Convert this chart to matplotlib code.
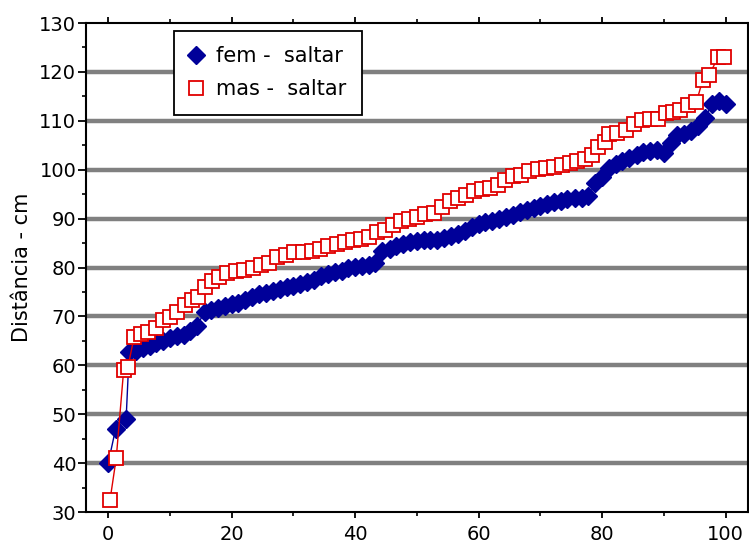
import matplotlib.pyplot as plt
from matplotlib.ticker import MultipleLocator

plt.rcParams['font.family'] = ['DejaVu Sans']

# fem - saltar
fem_x = [0, 1.2, 2.9, 3.4, 4.5, 5.6, 6.7, 7.8, 8.9, 10.0, 11.1, 12.2, 13.3, 14.4,
         15.6, 16.7, 17.8, 18.9, 20.0, 21.1, 22.2, 23.3, 24.4, 25.6, 26.7, 27.8,
         28.9, 30.0, 31.1, 32.2, 33.3, 34.4, 35.6, 36.7, 37.8, 38.9, 40.0, 41.1,
         42.2, 43.3, 44.4, 45.6, 46.7, 47.8, 48.9, 50.0, 51.1, 52.2, 53.3, 54.4,
         55.6, 56.7, 57.8, 58.9, 60.0, 61.1, 62.2, 63.3, 64.4, 65.6, 66.7, 67.8,
         68.9, 70.0, 71.1, 72.2, 73.3, 74.4, 75.6, 76.7, 77.8, 78.9, 80.0, 81.1,
         82.2, 83.3, 84.4, 85.6, 86.7, 87.8, 88.9, 90.0, 91.1, 92.2, 93.3, 94.4,
         95.6, 96.7, 97.8, 98.9, 100.0]
fem_y = [40, 47, 49, 62.7, 63, 63.5, 64, 64.5, 65, 65.5, 66, 66.3, 67, 68,
         71, 71.3, 71.8, 72.2, 72.5, 72.8, 73.3, 74, 74.5, 74.8, 75.2, 75.6,
         76, 76.3, 76.6, 77, 77.5, 78.2, 78.7, 79, 79.3, 79.8, 80.2, 80.4,
         80.6, 81, 83.3, 83.8, 84.3, 84.8, 85.2, 85.5, 85.6, 85.6, 85.7, 86,
         86.5, 86.8, 87.4, 88.2, 88.8, 89.3, 89.6, 90, 90.4, 90.8, 91.3, 91.8,
         92.2, 92.5, 93, 93.3, 93.6, 94, 94.2, 94.3, 94.6, 97.2, 98.5, 100.3,
         101.2, 101.8, 102.3, 103, 103.6, 103.9, 104, 103.5, 105.5, 107, 107.3, 108,
         109, 110.5, 113.5, 114, 113.5]

# mas - saltar
mas_x = [0.3, 1.3, 2.5, 3.2, 4.2, 5.3, 6.4, 7.7, 8.8, 10.0, 11.2, 12.4, 13.5, 14.6,
         15.7, 16.8, 18.0, 19.3, 20.7, 22.0, 23.4, 24.7, 26.1, 27.4, 28.8, 30.1,
         31.5, 33.0, 34.3, 35.6, 37.0, 38.3, 39.6, 41.0, 42.3, 43.5, 44.8, 46.1,
         47.4, 48.8, 50.1, 51.4, 52.8, 54.0, 55.3, 56.6, 58.0, 59.2, 60.5, 61.8,
         63.1, 64.3, 65.6, 66.9, 68.2, 69.6, 70.9, 72.2, 73.5, 74.8, 76.0, 77.2,
         78.4, 79.4, 80.4, 81.2, 82.5, 83.8, 85.1, 86.5, 87.8, 89.0, 90.3, 91.5,
         92.7, 94.0, 95.3, 96.3, 97.4, 98.8, 99.8]
mas_y = [32.5, 41, 59, 59.7, 65.8, 66.5, 66.9, 67.6, 69.3, 69.8, 71, 72.3, 73.3, 74,
         76, 77.3, 78.1, 78.8, 79.3, 79.4, 80, 80.5, 81, 82.2, 82.6, 83.2,
         83.2, 83.4, 83.8, 84.3, 84.8, 85.2, 85.6, 85.9, 86.3, 87.2, 87.7, 88.6,
         89.6, 90, 90.3, 90.9, 91.1, 92.4, 93.5, 94.3, 94.8, 95.6, 96, 96.2,
         96.9, 97.8, 98.8, 98.9, 99.7, 100.1, 100.4, 100.6, 100.9, 101.3, 101.7, 102.2,
         103, 104.7, 105.7, 107.4, 107.5, 108.2, 109.3, 110.2, 110.3, 110.4, 111.5, 111.9,
         112.3, 113.3, 113.9, 118.3, 119.4, 123.1, 123.1]

fig = plt.figure(figsize=(7.49, 5.44), dpi=100)
ax = fig.add_axes([0.1148, 0.0588, 0.8835, 0.8989])

# linhas de grade horizontais
for yv in range(40, 130, 10):
    ax.axhline(yv, color='#808080', lw=3.2, zorder=1)

ax.plot(fem_x, fem_y, color='#000099', lw=1, marker='D', markersize=9,
        markerfacecolor='#000099', markeredgecolor='#000099', zorder=3,
        label='fem -  saltar')
ax.plot(mas_x, mas_y, color='#e00000', lw=1, marker='s', markersize=10.5,
        markerfacecolor='white', markeredgecolor='#e00000', markeredgewidth=1.3,
        zorder=4, label='mas -  saltar')

ax.set_xlim(-3.6, 103.6)
ax.set_ylim(30, 130)
ax.xaxis.set_major_locator(MultipleLocator(20))
ax.xaxis.set_minor_locator(MultipleLocator(10))
ax.yaxis.set_major_locator(MultipleLocator(10))
ax.yaxis.set_minor_locator(MultipleLocator(5))
ax.tick_params(axis='both', which='major', labelsize=14, width=1.3,
               direction='out', colors='black')
ax.tick_params(axis='y', which='major', length=6, pad=1)
ax.tick_params(axis='x', which='major', length=4, pad=5)
ax.tick_params(axis='both', which='minor', length=3, width=1.2, direction='out')
ax.tick_params(axis='x', top=True, which='both')
ax.tick_params(axis='y', right=False, which='both')
for s in ax.spines.values():
    s.set_linewidth(1.5)

ax.set_ylabel('Distância - cm', fontsize=15, labelpad=5)

leg = ax.legend(loc='upper left', bbox_to_anchor=(0.133, 0.984), fontsize=15,
                frameon=True, fancybox=False, edgecolor='black', framealpha=1,
                handlelength=0.6, handletextpad=0.65, borderpad=0.75,
                labelspacing=0.6, borderaxespad=0, numpoints=1)
leg.get_frame().set_linewidth(1.3)
for h in leg.legend_handles:
    h.set_linestyle('none')

plt.savefig('out.png', dpi=100)
